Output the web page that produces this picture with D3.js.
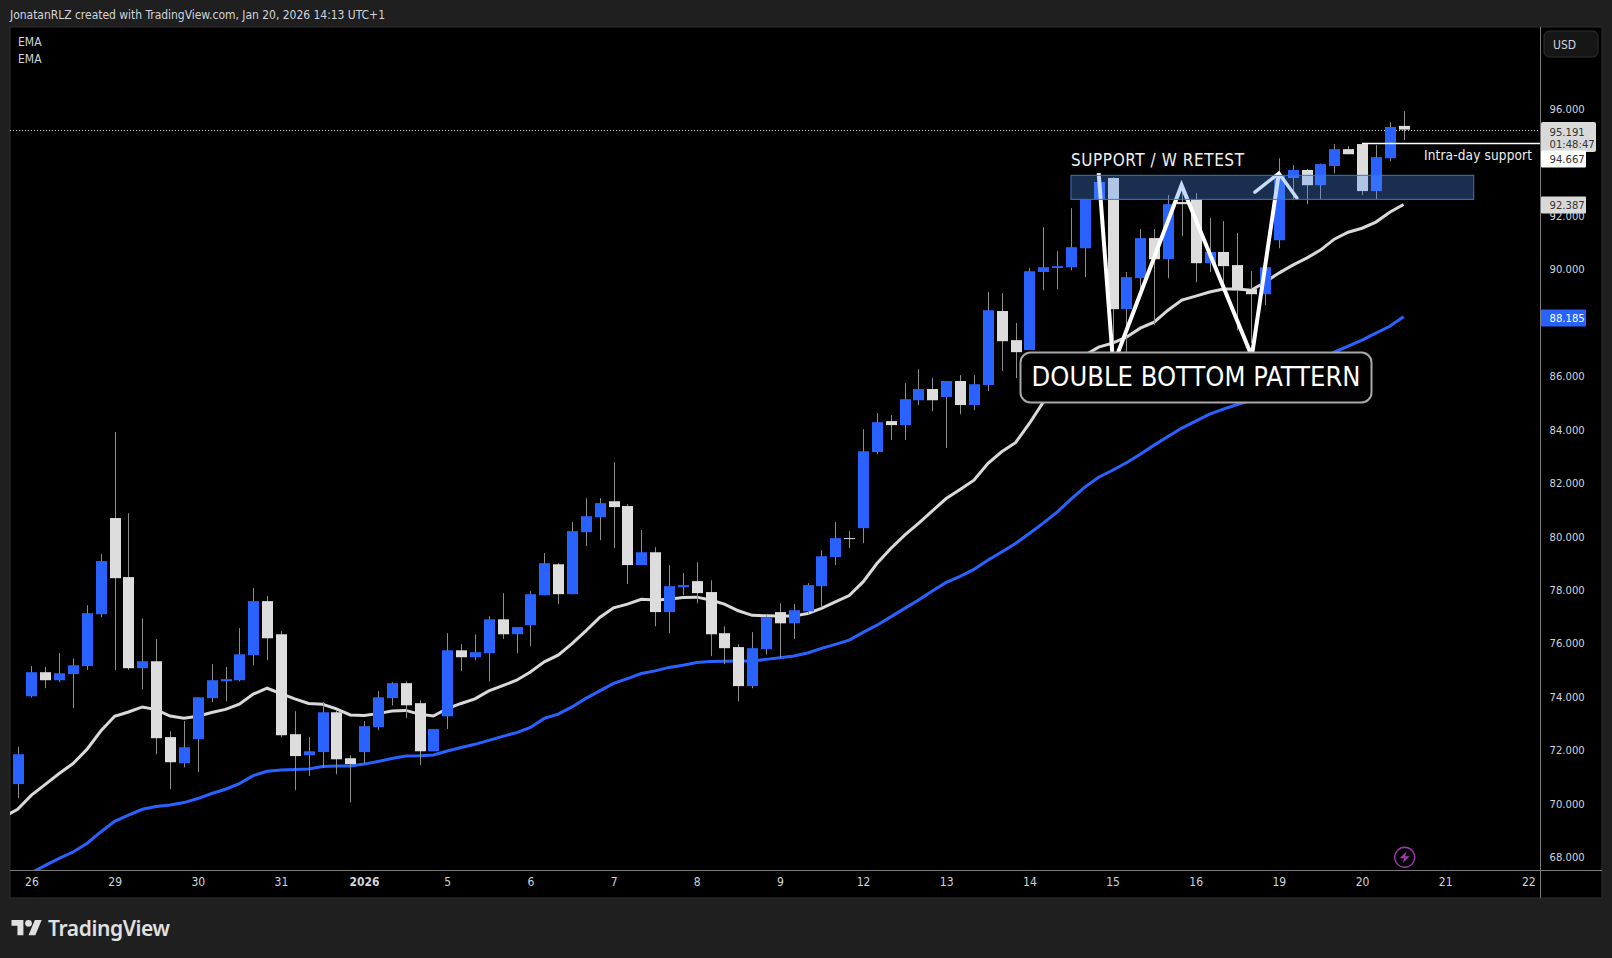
<!DOCTYPE html>
<html>
<head>
<meta charset="utf-8">
<title>TradingView chart</title>
<script src="https://cdn.jsdelivr.net/npm/d3@7"></script>
<style>
  html, body { margin: 0; padding: 0; background: #1f1f1f; overflow: hidden; }
  text { font-family: "DejaVu Sans", sans-serif; font-stretch: condensed; }
</style>
</head>
<body>
<div id="chart"></div>
<script>
// candle data, 4h bars
const opens = [70.69,73.98,74.88,74.58,74.81,75.11,77.05,80.65,78.44,75.03,75.29,72.45,71.47,72.37,73.91,74.54,74.58,75.52,77.54,76.30,72.56,71.77,71.89,73.38,71.66,71.89,72.82,73.91,74.47,73.72,71.92,73.23,75.70,75.44,75.59,76.86,76.30,76.64,77.76,78.92,77.80,80.12,80.68,81.28,81.10,78.89,79.37,77.13,78.06,78.29,77.88,76.34,75.82,74.36,75.74,77.13,76.71,77.16,78.10,79.19,79.90,80.27,83.12,84.28,84.13,85.06,85.48,85.18,85.78,84.88,85.63,88.40,87.31,86.94,89.86,90.01,90.04,90.75,92.58,93.38,88.47,89.63,91.13,90.34,92.48,92.58,90.19,90.61,90.12,89.22,89.03,91.05,93.38,93.68,93.11,93.83,94.46,94.65,92.89,94.12,95.33];
const highs = [72.09,75.11,75.08,75.60,75.40,77.39,79.30,83.87,80.83,76.90,76.12,72.67,73.05,73.94,75.18,75.07,76.53,78.03,77.73,76.42,73.42,72.45,73.76,73.46,71.77,73.05,74.17,74.51,74.54,73.83,72.75,76.34,75.93,76.30,76.98,77.84,76.57,77.91,79.34,78.96,80.50,81.39,81.39,82.74,81.17,80.20,79.56,78.89,78.59,79.00,78.32,76.60,75.93,76.38,77.01,77.46,77.43,78.21,79.45,80.50,80.16,83.98,84.58,84.50,85.70,86.22,85.89,85.78,86.00,86.00,89.11,89.07,87.95,90.01,91.54,90.64,92.25,92.58,93.40,93.41,89.86,91.47,91.47,92.74,93.11,92.81,91.88,91.77,91.32,89.89,90.04,94.12,93.86,93.72,93.92,94.65,94.57,94.67,94.61,95.47,95.88];
const lows = [70.17,73.93,74.28,74.51,73.53,74.96,76.94,74.96,74.96,74.24,71.81,70.50,71.32,71.14,73.76,73.79,74.54,75.14,75.33,72.45,70.46,70.99,71.29,71.06,70.01,71.47,72.71,73.64,73.16,71.40,71.92,72.75,74.92,75.33,74.54,76.12,75.59,75.85,77.76,77.43,77.80,79.60,79.82,79.52,78.18,78.89,76.60,76.34,77.76,77.46,75.48,75.18,73.79,74.28,75.55,75.44,76.12,77.05,77.31,78.89,79.52,79.71,83.04,83.57,83.57,84.88,84.65,83.27,84.54,84.69,85.40,86.15,85.89,86.94,89.18,89.22,89.93,89.67,92.58,86.90,86.82,89.18,87.87,89.63,91.20,89.48,89.86,89.18,87.68,87.20,88.62,90.75,92.55,92.40,92.59,93.56,94.27,92.74,92.59,94.01,94.80];
const closes = [71.81,74.88,74.58,74.84,75.14,77.09,79.04,78.40,75.03,75.29,72.41,71.51,72.07,73.94,74.58,74.62,75.55,77.54,76.15,72.52,71.74,71.92,73.38,71.62,71.44,72.86,73.94,74.47,73.64,71.92,72.75,75.70,75.44,75.63,76.86,76.30,76.57,77.80,78.96,77.80,80.16,80.72,81.21,81.06,78.89,79.37,77.13,78.10,78.14,77.84,76.30,75.78,74.36,75.78,76.94,76.71,77.20,78.14,79.22,79.90,79.87,83.15,84.24,84.13,85.10,85.48,85.06,85.78,84.88,85.66,88.43,87.27,86.86,89.89,90.04,90.08,90.79,92.58,93.23,88.47,89.67,91.13,90.34,92.40,92.40,90.19,90.61,90.08,89.18,89.03,90.04,93.45,93.68,93.11,93.90,94.46,94.27,92.89,94.16,95.29,95.191];

// EMA values, first entry is one bar before the first candle
const emaFast = [69.46,69.75,70.28,70.68,71.09,71.46,71.99,72.68,73.23,73.39,73.58,73.48,73.24,73.16,73.23,73.37,73.49,73.68,74.06,74.28,74.08,73.88,73.71,73.68,73.51,73.28,73.26,73.33,73.43,73.45,73.31,73.24,73.52,73.71,73.88,74.18,74.38,74.58,74.89,75.27,75.52,75.95,76.43,76.93,77.29,77.43,77.61,77.58,77.61,77.68,77.69,77.58,77.43,77.18,77.01,76.99,76.98,76.98,77.08,77.27,77.51,77.75,78.26,78.95,79.51,80.01,80.45,80.92,81.38,81.72,82.07,82.69,83.13,83.47,84.19,84.99,85.63,86.26,86.75,87.05,87.20,87.42,87.76,87.98,88.43,88.81,88.96,89.11,89.22,89.22,89.18,89.48,89.82,90.12,90.38,90.68,91.09,91.35,91.50,91.73,92.10,92.387];
const emaSlow = [66.82,67.09,67.37,67.65,67.91,68.15,68.47,68.90,69.30,69.53,69.75,69.85,69.91,70.00,70.15,70.34,70.50,70.71,71.01,71.17,71.22,71.24,71.26,71.35,71.37,71.37,71.44,71.54,71.65,71.74,71.75,71.78,71.93,72.06,72.18,72.33,72.48,72.62,72.81,73.15,73.31,73.58,73.90,74.18,74.46,74.64,74.83,74.93,75.06,75.14,75.24,75.28,75.29,75.30,75.30,75.36,75.42,75.49,75.60,75.77,75.92,76.08,76.37,76.64,76.95,77.27,77.58,77.92,78.24,78.47,78.73,79.07,79.38,79.70,80.07,80.46,80.87,81.36,81.81,82.18,82.44,82.72,83.04,83.38,83.70,84.02,84.28,84.54,84.73,84.90,85.06,85.25,85.51,85.81,86.15,86.52,86.86,87.09,87.31,87.57,87.83,88.185];

// 88 and 94 sit under the price tags in the reference, so they are not listed
const priceTicks = [68,70,72,74,76,78,80,82,84,86,90,92,96];
const timeTicks = [1,7,13,19,25,31,37,43,49,55,61,67,73,79,85,91,97,103,109];
const timeLabels = ['26','29','30','31','2026','5','6','7','8','9','12','13','14','15','16','19','20','21','22'];

// drawn objects on the chart, [bar index, price]
const wPattern = [[78,93.56],[79.05,86.37],[83.98,93.11],[89.05,86.71],[91,93.56]];
const arrowHead = [[89.27,92.85],[91,93.56],[92.3,92.63]];
const zone = {from: 76, to: 105.06, top: 93.48, bottom: 92.58};
const intraday = {from: 97, price: 94.667};
const lastPrice = 95.191;

const width = 1612, height = 958;
const plot = {left: 10, right: 1602, top: 27, bottom: 898, axisX: 1540.5, axisY: 870};

const svg = d3.select('#chart')
  .append('svg')
    .attr('width', width)
    .attr('height', height)
    .style('display', 'block');

const x = d3.scaleLinear().domain([0, 100]).range([17.6, 1403.6]);
const y = d3.scaleLinear().domain([96, 68]).range([108, 856]);

// plot background
svg.append('rect')
  .attr('x', plot.left).attr('y', plot.top)
  .attr('width', plot.right - plot.left).attr('height', plot.bottom - plot.top)
  .attr('fill', '#000').attr('stroke', '#2e2e2e');

svg.append('defs').append('clipPath').attr('id', 'pane')
  .append('rect')
    .attr('x', plot.left).attr('y', plot.top + 1)
    .attr('width', plot.axisX - plot.left).attr('height', plot.axisY - plot.top - 1);

svg.append('text').attr('x', 10).attr('y', 18.5)
  .attr('fill', '#d1d4dc').attr('font-size', 12).attr('textLength', 375)
  .text('JonatanRLZ created with TradingView.com, Jan 20, 2026 14:13 UTC+1');

['EMA', 'EMA'].forEach((t, i) => {
  svg.append('text').attr('x', 18).attr('y', 46 + i * 17)
    .attr('fill', '#d1d4dc').attr('font-size', 12).text(t);
});

const pane = svg.append('g').attr('clip-path', 'url(#pane)');

// last price dotted line
pane.append('line')
  .attr('x1', plot.left).attr('x2', plot.axisX)
  .attr('y1', Math.round(y(lastPrice)) + 0.5).attr('y2', Math.round(y(lastPrice)) + 0.5)
  .attr('stroke', '#cfcfcf').attr('stroke-dasharray', '1 2');

// EMAs sit behind the candles
const line = d3.line().x((d, i) => x(i - 1)).y(d => y(d));
pane.append('path').attr('d', line(emaSlow))
  .attr('fill', 'none').attr('stroke', '#2962ff').attr('stroke-width', 3);
pane.append('path').attr('d', line(emaFast))
  .attr('fill', 'none').attr('stroke', '#d9d9d9').attr('stroke-width', 3);

const bars = opens.map((o, i) => ({i: i, o: o, h: highs[i], l: lows[i], c: closes[i]}));
const candle = pane.selectAll('.candle').data(bars).enter().append('g').attr('class', 'candle');
candle.append('line')
  .attr('x1', d => Math.round(x(d.i)) + 0.5).attr('x2', d => Math.round(x(d.i)) + 0.5)
  .attr('y1', d => y(d.h)).attr('y2', d => y(d.l))
  .attr('stroke', '#8c8c8c');
candle.append('rect')
  .attr('x', d => Math.round(x(d.i)) - 5)
  .attr('width', 11)
  .attr('y', d => y(Math.max(d.o, d.c)))
  .attr('height', d => Math.max(1, Math.abs(y(d.o) - y(d.c))))
  .attr('fill', d => d.c >= d.o ? '#2962ff' : '#dddddd');

// W pattern and arrow, the zone is painted over them
const drawLine = d3.line().x(d => x(d[0])).y(d => y(d[1]));
pane.append('path').attr('d', drawLine(wPattern))
  .attr('fill', 'none').attr('stroke', '#fff').attr('stroke-width', 4).attr('stroke-linejoin', 'miter');
pane.append('path').attr('d', drawLine(arrowHead))
  .attr('fill', 'none').attr('stroke', '#fff').attr('stroke-width', 3.5).attr('stroke-linecap', 'round');

pane.append('rect')
  .attr('x', x(zone.from)).attr('width', x(zone.to) - x(zone.from))
  .attr('y', y(zone.top)).attr('height', y(zone.bottom) - y(zone.top))
  .attr('fill', 'rgb(80,145,245)').attr('fill-opacity', 0.32)
  .attr('stroke', '#2e7cc4');

pane.append('line')
  .attr('x1', x(intraday.from)).attr('x2', plot.axisX)
  .attr('y1', y(intraday.price)).attr('y2', y(intraday.price))
  .attr('stroke', '#fff').attr('stroke-width', 1.5);

pane.append('text').attr('x', 1071).attr('y', 166)
  .attr('fill', '#f0f0f0').attr('font-size', 17).attr('textLength', 173)
  .text('SUPPORT / W RETEST');
pane.append('text').attr('x', 1424).attr('y', 160)
  .attr('fill', '#f0f0f0').attr('font-size', 13.5).attr('textLength', 108)
  .text('Intra-day support');

// label box
pane.append('rect')
  .attr('x', 1020.5).attr('y', 352.5).attr('width', 351).attr('height', 50).attr('rx', 10)
  .attr('fill', '#000').attr('stroke', '#a8a8a8').attr('stroke-width', 2);
pane.append('text').attr('x', 1196).attr('y', 386)
  .attr('fill', '#fff').attr('font-size', 27).attr('text-anchor', 'middle').attr('textLength', 329)
  .text('DOUBLE BOTTOM PATTERN');

// bolt icon
const bolt = pane.append('g').attr('transform', 'translate(1404.7,857.3)');
bolt.append('circle').attr('r', 10).attr('fill', 'none').attr('stroke', '#9c39ab').attr('stroke-width', 1.4);
bolt.append('path').attr('d', 'M2-6L-5 1H-0.5L-2 6L5-1H0.5Z').attr('fill', '#9c39ab');

// axes
const yAxis = svg.append('g')
  .attr('transform', `translate(${plot.axisX},1)`)
  .call(d3.axisRight(y).tickValues(priceTicks).tickSize(0).tickPadding(9).tickFormat(d3.format('.3f')));
yAxis.select('.domain').remove();
yAxis.selectAll('text').attr('fill', '#d1d4dc').attr('font-size', 11.2);

const xAxis = svg.append('g')
  .attr('transform', `translate(0,${plot.axisY})`)
  .call(d3.axisBottom(x).tickValues(timeTicks).tickSize(0).tickPadding(7)
    .tickFormat((d, i) => timeLabels[i]));
xAxis.select('.domain').remove();
xAxis.selectAll('text').attr('fill', '#d1d4dc').attr('font-size', 12)
  .attr('font-weight', (d, i) => timeLabels[i] === '2026' ? 700 : 400);
yAxis.attr('font-family', null);
xAxis.attr('font-family', null);

svg.append('line').attr('x1', plot.left).attr('x2', plot.right)
  .attr('y1', plot.axisY + 0.5).attr('y2', plot.axisY + 0.5).attr('stroke', '#7a7a7a');
svg.append('line').attr('x1', plot.axisX).attr('x2', plot.axisX)
  .attr('y1', plot.top).attr('y2', plot.bottom).attr('stroke', '#7a7a7a');

// USD button
svg.append('rect').attr('x', 1544).attr('y', 31).attr('width', 54).attr('height', 26).attr('rx', 5)
  .attr('fill', '#161616').attr('stroke', '#2e2e2e');
svg.append('text').attr('x', 1553).attr('y', 49).attr('fill', '#d1d4dc').attr('font-size', 12).text('USD');

// price tags on the axis, the last price first since the intraday tag lies over it
const lastY = Math.round(y(lastPrice));
svg.append('rect').attr('x', plot.axisX + 0.5).attr('y', lastY - 8).attr('width', 55).attr('height', 30).attr('rx', 2)
  .attr('fill', '#d9d9d9');
svg.append('text').attr('x', plot.axisX + 9).attr('y', lastY + 5.5)
  .attr('fill', '#333').attr('font-size', 11.2).text(lastPrice.toFixed(3));
svg.append('text').attr('x', plot.axisX + 9).attr('y', lastY + 18)
  .attr('fill', '#333').attr('font-size', 11.2).text('01:48:47');

const tags = [
  {price: 92.387, label: '92.387', bg: '#d9d9d9', fg: '#333', shift: 0},
  {price: 88.185, label: '88.185', bg: '#2962ff', fg: '#fff', shift: 1},
  {price: 94.667, label: '94.667', bg: '#fff', fg: '#333', shift: 15}
];
tags.forEach(t => {
  const cy = Math.round(y(t.price)) + t.shift;
  svg.append('rect').attr('x', plot.axisX + 0.5).attr('y', cy - 8.5).attr('width', 45).attr('height', 17).attr('rx', 1)
    .attr('fill', t.bg);
  svg.append('text').attr('x', plot.axisX + 9).attr('y', cy + 4)
    .attr('fill', t.fg).attr('font-size', 11.2).text(t.label);
});

// logo and wordmark
const logo = svg.append('g').attr('transform', 'translate(11.5,916.5) scale(0.85)').attr('fill', '#e0e0e0');
logo.append('path').attr('d', 'M14 22H7V11H0V4h14v18zM28 22h-8l7.5-18h8L28 22z');
logo.append('circle').attr('cx', 20).attr('cy', 8).attr('r', 4);
svg.append('text').attr('x', 48).attr('y', 936)
  .attr('fill', '#e0e0e0').attr('font-size', 21).attr('font-weight', 600).attr('textLength', 122)
  .style('font-family', '"Noto Sans", sans-serif').style('font-stretch', 'normal')
  .text('TradingView');
</script>
</body>
</html>
